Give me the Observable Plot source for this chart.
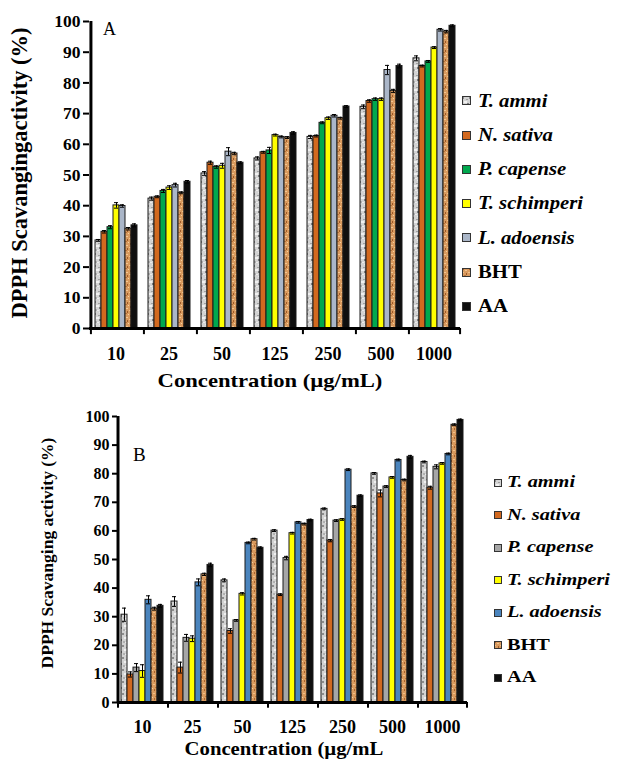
<!DOCTYPE html>
<html><head><meta charset="utf-8">
<script src="https://cdn.jsdelivr.net/npm/d3@7"></script>
<script src="https://cdn.jsdelivr.net/npm/@observablehq/plot@0.6"></script>
<style>
body{margin:0;background:#fff;}
#root{position:relative;width:617px;height:759px;font-family:"Liberation Serif","Times New Roman",serif;color:#000;overflow:hidden;}
.abs{position:absolute;white-space:nowrap;line-height:1;}
</style></head><body>
<svg width="0" height="0" style="position:absolute">
<defs>
<pattern id="texAmmi" patternUnits="userSpaceOnUse" width="7" height="12">
 <rect width="7" height="12" fill="#d3d3d3"/>
 <rect x="0" y="1" width="2" height="2" fill="#8c8c8c"/>
 <rect x="4" y="3" width="2" height="1" fill="#a0a0a0"/>
 <rect x="2" y="5" width="3" height="2" fill="#f0f0f0"/>
 <rect x="5" y="7" width="2" height="2" fill="#7d7d7d"/>
 <rect x="1" y="9" width="2" height="2" fill="#b0b0b0"/>
 <rect x="3" y="10" width="2" height="1" fill="#ececec"/>
 <rect x="5" y="0" width="1" height="1" fill="#e6e6e6"/>
</pattern>
<pattern id="texBHT" patternUnits="userSpaceOnUse" width="6" height="9">
 <rect width="6" height="9" fill="#d99a5e"/>
 <rect x="1" y="0" width="1" height="2" fill="#a8612c"/>
 <rect x="3" y="2" width="2" height="1" fill="#f2c591"/>
 <rect x="0" y="4" width="2" height="1" fill="#f0c08a"/>
 <rect x="4" y="5" width="1" height="2" fill="#9e5a28"/>
 <rect x="2" y="7" width="2" height="1" fill="#b8743a"/>
 <rect x="5" y="8" width="1" height="1" fill="#f5d0a0"/>
</pattern>
</defs></svg>
<div id="root"></div>
<script>
// ---------- data ----------
const concentrations = ["10", "25", "50", "125", "250", "500", "1000"];
const seriesNames = ["T. ammi", "N. sativa", "P. capense", "T. schimperi", "L. adoensis", "BHT", "AA"];
const yTickValues = [0, 10, 20, 30, 40, 50, 60, 70, 80, 90, 100];

// Panel A (DPPH scavanging activity, %)
const A_Tammi      = [28.7, 42.3, 50.5, 55.4, 62.4, 72.2, 88.0];
const A_Nsativa    = [31.5, 42.9, 54.0, 57.4, 62.7, 74.1, 85.5];
const A_Pcapense   = [33.0, 44.8, 52.6, 58.0, 67.0, 74.7, 87.0];
const A_Tschimperi = [40.1, 45.9, 53.0, 63.0, 68.5, 74.7, 91.5];
const A_Ladoensis  = [39.9, 46.7, 57.6, 62.4, 69.3, 84.2, 97.3];
const A_BHT        = [32.5, 44.2, 57.0, 62.2, 68.5, 77.4, 96.7];
const A_AA         = [33.6, 47.8, 54.0, 63.7, 72.3, 85.5, 98.6];
// Panel A error bars
const A_Tammi_err      = [0.3, 0.5, 0.6, 0.5, 0.5, 0.6, 0.8];
const A_Nsativa_err    = [0.4, 0.3, 0.5, 0.3, 0.3, 0.4, 0.3];
const A_Pcapense_err   = [0.5, 0.5, 0.4, 1.0, 0.3, 0.4, 0.3];
const A_Tschimperi_err = [0.9, 0.6, 0.8, 0.3, 0.4, 0.4, 0.3];
const A_Ladoensis_err  = [0.4, 0.6, 1.3, 0.3, 0.4, 1.5, 0.4];
const A_BHT_err        = [0.4, 0.3, 0.4, 0.3, 0.3, 0.5, 0.4];
const A_AA_err         = [0.5, 0.4, 0.3, 0.4, 0.3, 0.6, 0.3];

// Panel B (DPPH scavanging activity, %)
const B_Tammi      = [30.7, 35.3, 42.7, 60.1, 67.7, 80.1, 84.1];
const B_Nsativa    = [9.8, 12.2, 25.0, 37.7, 56.6, 73.1, 75.1];
const B_Pcapense   = [12.2, 22.6, 28.7, 50.5, 63.6, 75.5, 82.4];
const B_Tschimperi = [11.0, 22.3, 38.0, 59.2, 64.0, 78.7, 83.6];
const B_Ladoensis  = [35.9, 42.0, 55.8, 63.0, 81.4, 84.8, 86.9];
const B_BHT        = [32.8, 44.8, 57.1, 62.4, 68.5, 77.8, 97.1];
const B_AA         = [33.8, 48.1, 54.1, 63.8, 72.3, 85.9, 98.8];
// Panel B error bars
const B_Tammi_err      = [2.3, 1.7, 0.5, 0.3, 0.3, 0.3, 0.3];
const B_Nsativa_err    = [0.9, 1.9, 0.8, 0.3, 0.4, 1.2, 0.5];
const B_Pcapense_err   = [1.4, 1.2, 0.3, 0.6, 0.3, 0.3, 0.7];
const B_Tschimperi_err = [2.2, 1.0, 0.4, 0.3, 0.3, 0.3, 0.3];
const B_Ladoensis_err  = [1.4, 1.2, 0.3, 0.3, 0.3, 0.3, 0.3];
const B_BHT_err        = [0.5, 0.4, 0.3, 0.3, 0.3, 0.3, 0.3];
const B_AA_err         = [0.5, 0.6, 0.3, 0.3, 0.3, 0.5, 0.3];

const fillsA = ["url(#texAmmi)", "#d2691f", "#00a84e", "#ffff00", "#aab6c8", "url(#texBHT)", "#0f0f0f"];
const fillsB = ["url(#texAmmi)", "#d2691f", "#a6a6a6", "#ffff00", "#4a84bd", "url(#texBHT)", "#0f0f0f"];

// ---------- helpers ----------
const FONT = '"Liberation Serif","Times New Roman",serif';
function table(vals, errs) {
  return concentrations.flatMap((c, i) => seriesNames.map((s, j) => ({conc: c, series: s, value: vals[j][i], err: errs[j][i]})));
}

function panel(o) {
  const data = table(o.values, o.errors);
  const fillOf = new Map(seriesNames.map((s, j) => [s, o.fills[j]]));
  const plotW = o.width - o.marginLeft - o.marginRight;
  const facetW = plotW / concentrations.length;
  const stepX = facetW / (seriesNames.length + 2 * o.po);
  const edge = (o.po + 0.5) * stepX;
  const first = seriesNames[0], last = seriesNames[seriesNames.length - 1];
  return Plot.plot({
    width: o.width, height: o.height,
    marginLeft: o.marginLeft, marginRight: o.marginRight, marginTop: o.marginTop, marginBottom: o.marginBottom,
    style: {fontFamily: FONT, color: "#000", background: "transparent", overflow: "visible"},
    fx: {domain: concentrations, padding: 0, label: null},
    x: {domain: seriesNames, paddingInner: 0, paddingOuter: o.po, axis: null},
    y: {domain: [0, 100], label: null},
    color: {type: "identity"},
    marks: [
      Plot.barY(data, {fx: "conc", x: "series", y: "value", fill: d => fillOf.get(d.series), stroke: "#1a1a1a", strokeWidth: 1}),
      Plot.ruleX(data, {fx: "conc", x: "series", y1: d => d.value - d.err, y2: d => d.value + d.err, stroke: "#000", strokeWidth: 1}),
      Plot.tickY(data, {fx: "conc", x: "series", y: d => d.value + d.err, insetLeft: 1, insetRight: 1, stroke: "#000", strokeWidth: 1}),
      Plot.tickY(data, {fx: "conc", x: "series", y: d => d.value - d.err, insetLeft: 1, insetRight: 1, stroke: "#000", strokeWidth: 1}),
      Plot.ruleY([0], {stroke: "#000", strokeWidth: 3}),
      Plot.ruleX(concentrations, {fx: d => d, x: () => first, dx: -edge, y1: 0, y2: -o.tickUnits, stroke: "#000", strokeWidth: 2}),
      Plot.ruleX([concentrations[concentrations.length - 1]], {fx: d => d, x: () => last, dx: edge, y1: 0, y2: -o.tickUnits, stroke: "#000", strokeWidth: 2}),
      Plot.ruleX([concentrations[0]], {fx: d => d, x: () => first, dx: -edge, y1: 0, y2: 100, stroke: "#000", strokeWidth: 3}),
      Plot.axisY({ticks: yTickValues, tickSize: o.yTickSize, tickPadding: o.yTickPad, fontSize: o.yFont, fontWeight: "bold", strokeWidth: 2, label: null, tickFormat: d => String(d)}),
      Plot.axisFx({anchor: "bottom", tickSize: 0, tickPadding: o.xTickPad, fontSize: o.xFont, fontWeight: "bold", label: null})
    ]
  });
}

const root = document.getElementById("root");
function place(el, left, top) {
  el.style.position = "absolute"; el.style.left = left + "px"; el.style.top = top + "px";
  root.appendChild(el);
}
function label(text, {x, baseline, size, weight = "bold", style = "normal", anchor = "start", sx = 1}) {
  const d = document.createElement("div");
  d.className = "abs";
  d.textContent = text;
  d.style.fontSize = size + "px"; d.style.fontWeight = weight; d.style.fontStyle = style;
  d.style.left = x + "px"; d.style.top = (baseline - 0.8375 * size) + "px";
  if (anchor === "middle") d.style.transform = `translateX(-50%) scaleX(${sx})`;
  else { d.style.transformOrigin = "left center"; d.style.transform = `scaleX(${sx})`; }
  root.appendChild(d);
}
function vlabel(text, {cx, cy, size}) {
  const d = document.createElement("div");
  d.className = "abs";
  d.textContent = text;
  d.style.fontSize = size + "px"; d.style.fontWeight = "bold";
  d.style.left = cx + "px"; d.style.top = cy + "px";
  d.style.transform = "translate(-50%,-50%) rotate(-90deg)";
  root.appendChild(d);
}
function legend({swatchX, textX, cy0, step, swatch, size, sx, fills}) {
  seriesNames.forEach((s, j) => {
    const cy = cy0 + j * step;
    const sv = document.createElementNS("http://www.w3.org/2000/svg", "svg");
    sv.setAttribute("width", swatch + 1); sv.setAttribute("height", swatch + 1);
    const r = document.createElementNS("http://www.w3.org/2000/svg", "rect");
    r.setAttribute("x", 0.5); r.setAttribute("y", 0.5);
    r.setAttribute("width", swatch); r.setAttribute("height", swatch);
    r.setAttribute("fill", fills[j]); r.setAttribute("stroke", "#333"); r.setAttribute("stroke-width", 1);
    sv.appendChild(r);
    place(sv, swatchX, cy - (swatch + 1) / 2);
    const italic = s !== "BHT" && s !== "AA";
    label(s, {x: textX, baseline: cy + 0.33 * size, size, sx, style: italic ? "italic" : "normal"});
  });
}

// ---------- panel A ----------
const plotA = panel({
  values: [A_Tammi, A_Nsativa, A_Pcapense, A_Tschimperi, A_Ladoensis, A_BHT, A_AA],
  errors: [A_Tammi_err, A_Nsativa_err, A_Pcapense_err, A_Tschimperi_err, A_Ladoensis_err, A_BHT_err, A_AA_err],
  fills: fillsA, width: 617, height: 392, marginLeft: 86, marginRight: 155, marginTop: 21, marginBottom: 64,
  po: 0.678, tickUnits: 2, yTickSize: 6, yTickPad: 3, yFont: 17.5, xTickPad: 19, xFont: 18
});
place(plotA, 0, 0);

// ---------- panel B ----------
const plotB = panel({
  values: [B_Tammi, B_Nsativa, B_Pcapense, B_Tschimperi, B_Ladoensis, B_BHT, B_AA],
  errors: [B_Tammi_err, B_Nsativa_err, B_Pcapense_err, B_Tschimperi_err, B_Ladoensis_err, B_BHT_err, B_AA_err],
  fills: fillsB, width: 617, height: 367, marginLeft: 114, marginRight: 148, marginTop: 24, marginBottom: 57,
  po: 0.53, tickUnits: 2, yTickSize: 5, yTickPad: 3, yFont: 16, xTickPad: 18, xFont: 18
});
place(plotB, 0, 392);

// ---------- texts ----------
label("A", {x: 103, baseline: 35, size: 18, weight: "normal"});
label("B", {x: 133, baseline: 461, size: 19, weight: "normal"});
vlabel("DPPH Scavangingactivity (%)", {cx: 20, cy: 173, size: 22.5});
vlabel("DPPH Scavanging activity (%)", {cx: 48, cy: 553, size: 17.5});
label("Concentration (µg/mL)", {x: 270, baseline: 387, size: 19.5, sx: 1.16, anchor: "middle"});
label("Concentration (µg/mL", {x: 284, baseline: 755, size: 18, sx: 1.15, anchor: "middle"});
legend({swatchX: 462, textX: 478, cy0: 100.7, step: 34.3, swatch: 8, size: 18, sx: 1.15, fills: fillsA});
legend({swatchX: 494, textX: 507, cy0: 482.7, step: 32.5, swatch: 7, size: 16.5, sx: 1.23, fills: fillsB});
</script>
</body></html>
